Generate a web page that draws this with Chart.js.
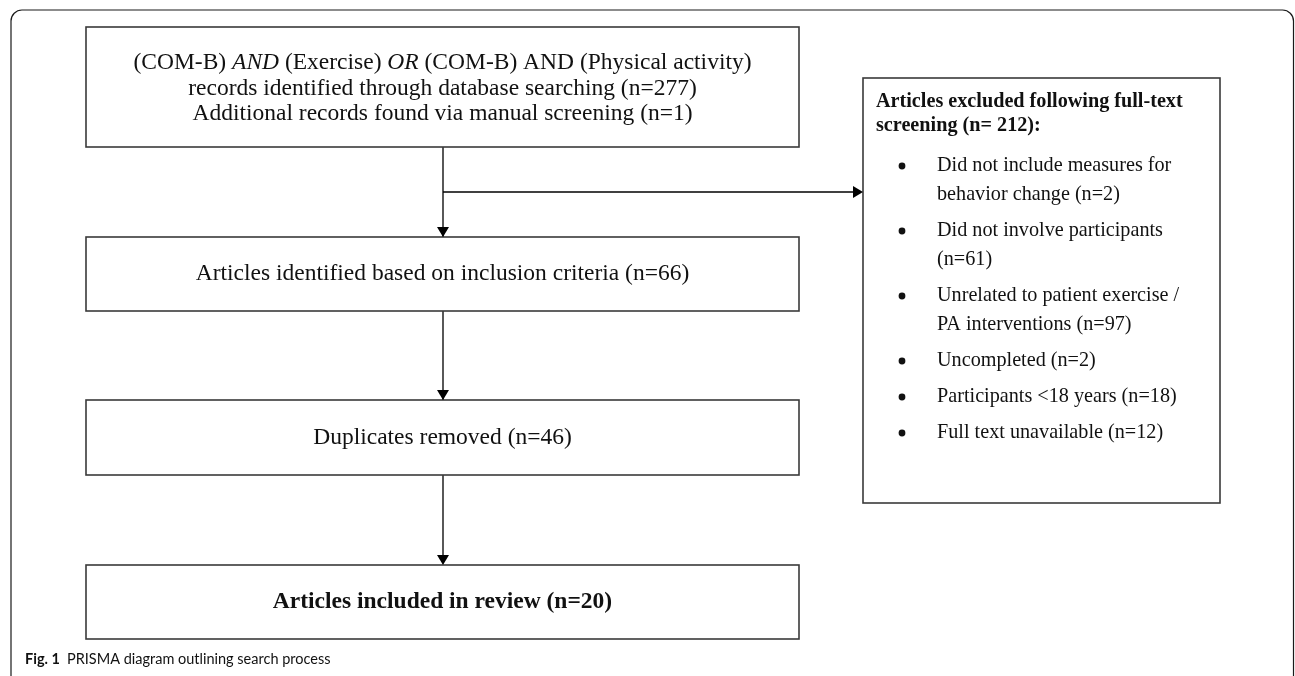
<!DOCTYPE html>
<html>
<head>
<meta charset="utf-8">
<title>PRISMA diagram</title>
<script src="https://cdn.jsdelivr.net/npm/chart.js@4"></script>
<style>
  html, body { margin: 0; padding: 0; background: #fff; }
  canvas { display: block; }
</style>
</head>
<body>
<canvas id="prisma" width="1295" height="676"></canvas>
<script>
// search query, italic flags mark the boolean operators
const queryParts = ["(COM-B) ", "AND", " (Exercise) ", "OR", " (COM-B) AND (Physical activity)"];
const queryItalic = [false, true, false, true, false];

const stageLabels = [
    "records identified through database searching",
    "Additional records found via manual screening",
    "Articles identified based on inclusion criteria",
    "Duplicates removed",
    "Articles included in review"
];
const stageCounts = [277, 1, 66, 46, 20];

const excludedTitle = "Articles excluded following full-text screening";
const excludedTotal = 212;
const exclusionReasons = [
    "Did not include measures for behavior change",
    "Did not involve participants",
    "Unrelated to patient exercise / PA interventions",
    "Uncompleted",
    "Participants <18 years",
    "Full text unavailable"
];
const exclusionCounts = [2, 61, 97, 2, 18, 12];

const captionLabel = "Fig. 1";
const captionText = "PRISMA diagram outlining search process";

// layout, in page pixels (y grows downward)
const W = 1295, H = 676;
const frame = { x0: 11, y0: 10, x1: 1293.5, r: 11 };
const mainX = [86, 799];
const spineX = 443;
const boxY = [[27, 147], [237, 311], [400, 475], [565, 639]];
const side = { x0: 863, y0: 78, x1: 1220, y1: 503 };
const branchY = 192;

const serif = '"Liberation Serif", "Times New Roman", serif';
const n = c => "(n=" + c + ")";

function wrap(ctx, text, maxW) {
    const words = text.split(" ");
    const lines = [];
    let cur = "";
    words.forEach(w => {
        const t = cur ? cur + " " + w : w;
        if (cur && ctx.measureText(t).width > maxW) {
            lines.push(cur);
            cur = w;
        } else {
            cur = t;
        }
    });
    if (cur) lines.push(cur);
    return lines;
}

const flowPlugin = {
    id: "flow",
    afterDatasetsDraw(chart) {
        const { ctx, scales: { x, y } } = chart;
        const px = v => x.getPixelForValue(v);
        const py = v => y.getPixelForValue(v);
        ctx.save();

        // outer rounded frame (open at the bottom)
        ctx.strokeStyle = "#1a1a1a";
        ctx.lineWidth = 1.2;
        ctx.beginPath();
        ctx.moveTo(px(frame.x0), py(H + 5));
        ctx.arcTo(px(frame.x0), py(frame.y0), px(frame.x1), py(frame.y0), frame.r);
        ctx.arcTo(px(frame.x1), py(frame.y0), px(frame.x1), py(H + 5), frame.r);
        ctx.lineTo(px(frame.x1), py(H + 5));
        ctx.stroke();

        // boxes
        ctx.strokeStyle = "#3a3a3a";
        ctx.lineWidth = 1.6;
        const rect = (x0, y0, x1, y1) => {
            ctx.fillStyle = "#fff";
            ctx.fillRect(px(x0), py(y0), px(x1) - px(x0), py(y1) - py(y0));
            ctx.strokeRect(px(x0), py(y0), px(x1) - px(x0), py(y1) - py(y0));
        };
        boxY.forEach(b => rect(mainX[0], b[0], mainX[1], b[1]));
        rect(side.x0, side.y0, side.x1, side.y1);

        // arrow heads
        ctx.fillStyle = "#000";
        const down = (ax, ay) => {
            ctx.beginPath();
            ctx.moveTo(px(ax), py(ay));
            ctx.lineTo(px(ax) - 6, py(ay) - 10);
            ctx.lineTo(px(ax) + 6, py(ay) - 10);
            ctx.closePath();
            ctx.fill();
        };
        boxY.slice(1).forEach(b => down(spineX, b[0]));
        ctx.beginPath();
        ctx.moveTo(px(side.x0), py(branchY));
        ctx.lineTo(px(side.x0) - 10, py(branchY) - 6);
        ctx.lineTo(px(side.x0) - 10, py(branchY) + 6);
        ctx.closePath();
        ctx.fill();

        // text
        ctx.fillStyle = "#111";
        ctx.textBaseline = "middle";
        const cx = px((mainX[0] + mainX[1]) / 2);
        const big = 23.5;

        // box 1: query line with italic operators, then two count lines
        const fonts = queryItalic.map(it => (it ? "italic " : "") + big + "px " + serif);
        let total = 0;
        queryParts.forEach((p, i) => { ctx.font = fonts[i]; total += ctx.measureText(p).width; });
        let tx = cx - total / 2;
        ctx.textAlign = "left";
        queryParts.forEach((p, i) => {
            ctx.font = fonts[i];
            ctx.fillText(p, tx, py(63));
            tx += ctx.measureText(p).width;
        });
        ctx.textAlign = "center";
        ctx.font = big + "px " + serif;
        ctx.fillText(stageLabels[0] + " " + n(stageCounts[0]), cx, py(88.5));
        ctx.fillText(stageLabels[1] + " " + n(stageCounts[1]), cx, py(114));

        ctx.fillText(stageLabels[2] + " " + n(stageCounts[2]), cx, py((boxY[1][0] + boxY[1][1]) / 2));
        ctx.fillText(stageLabels[3] + " " + n(stageCounts[3]), cx, py((boxY[2][0] + boxY[2][1]) / 2));
        ctx.font = "bold " + big + "px " + serif;
        ctx.fillText(stageLabels[4] + " " + n(stageCounts[4]), cx, py((boxY[3][0] + boxY[3][1]) / 2));

        // exclusion box
        const small = 20.2;
        ctx.textAlign = "left";
        ctx.font = "bold " + small + "px " + serif;
        const title = wrap(ctx, excludedTitle + " (n= " + excludedTotal + "):", 330);
        title.forEach((l, i) => ctx.fillText(l, px(876), py(102 + i * 24)));

        ctx.font = small + "px " + serif;
        let ly = 166;
        exclusionReasons.forEach((r, i) => {
            const lines = wrap(ctx, r + " " + n(exclusionCounts[i]), 262);
            ctx.beginPath();
            ctx.arc(px(902), py(ly), 3.4, 0, Math.PI * 2);
            ctx.fill();
            lines.forEach((l, j) => ctx.fillText(l, px(937), py(ly + j * 29)));
            ly += (lines.length - 1) * 29 + 36;
        });

        // caption
        ctx.font = "bold 14.5px Lato, sans-serif";
        ctx.fillText(captionLabel, px(25), py(659));
        const lw = ctx.measureText(captionLabel + "  ").width;
        ctx.font = "14.5px Lato, sans-serif";
        ctx.fillText(captionText, px(25) + lw, py(659));

        ctx.restore();
    }
};

new Chart(document.getElementById("prisma"), {
    type: "scatter",
    data: {
        datasets: [
            {
                // main spine, boxes are painted over it
                data: [{ x: spineX, y: boxY[0][1] }, { x: spineX, y: boxY[3][0] - 8 }],
                showLine: true,
                borderColor: "#000",
                borderWidth: 1.3,
                pointRadius: 0
            },
            {
                // branch to the exclusion box
                data: [{ x: spineX, y: branchY }, { x: side.x0 - 8, y: branchY }],
                showLine: true,
                borderColor: "#000",
                borderWidth: 1.3,
                pointRadius: 0
            }
        ]
    },
    options: {
        responsive: false,
        animation: false,
        events: [],
        layout: { padding: 0 },
        plugins: { legend: { display: false }, tooltip: { enabled: false } },
        scales: {
            x: { type: "linear", min: 0, max: W, display: false },
            y: { type: "linear", min: 0, max: H, reverse: true, display: false }
        }
    },
    plugins: [flowPlugin]
});
</script>
</body>
</html>
